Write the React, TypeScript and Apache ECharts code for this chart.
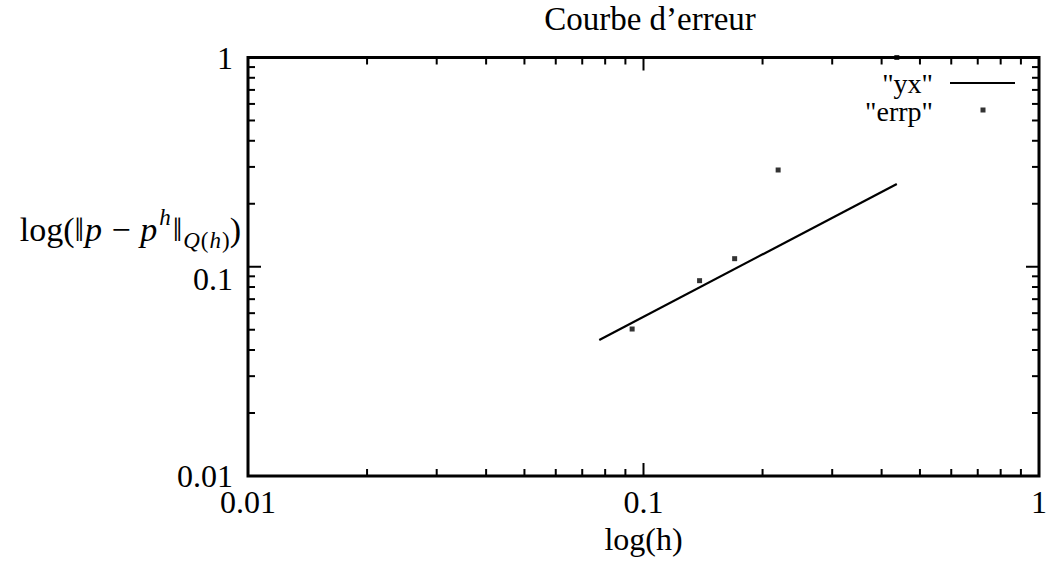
import React, { useEffect, useRef } from "react";
import * as echarts from "echarts";

const FONT = "'Liberation Serif', 'DejaVu Serif', serif";
const FS = 32;
const LEGEND_FS = 28;

// Series "yx" (reference line) and "errp" (error points)
const yxH = [0.0773, 0.437];
const yxErr = [0.0447, 0.2485];
const errpH = [0.0936, 0.1386, 0.17, 0.219, 0.437];
const errpErr = [0.0504, 0.0858, 0.1093, 0.29, 1.0];

// Axis ticks
const majorTicks = [0.01, 0.1, 1];
const majorLabels = ["0.01", "0.1", "1"];
const minorTicks = [
  0.02, 0.03, 0.04, 0.05, 0.06, 0.07, 0.08, 0.09,
  0.2, 0.3, 0.4, 0.5, 0.6, 0.7, 0.8, 0.9,
];

const AXIS_MIN = 0.01;
const AXIS_MAX = 1;
const MAJOR_LEN = 13;
const MINOR_LEN = 7;

function labelFor(v: number): string {
  const i = majorTicks.findIndex(
    (t) => Math.abs(Math.log10(t) - Math.log10(v)) < 1e-6
  );
  return i >= 0 ? majorLabels[i] : "";
}

export default function App() {
  const ref = useRef<HTMLDivElement>(null);

  useEffect(() => {
    if (!ref.current) return;
    const chart = echarts.init(ref.current, null, { renderer: "svg" });

    const xTickData = [
      ...majorTicks.map((v) => [v, AXIS_MIN, MAJOR_LEN]),
      ...minorTicks.map((v) => [v, AXIS_MIN, MINOR_LEN]),
    ];
    const yTickData = [
      ...majorTicks.map((v) => [AXIS_MIN, v, MAJOR_LEN]),
      ...minorTicks.map((v) => [AXIS_MIN, v, MINOR_LEN]),
    ];

    const tickStyle = { stroke: "#000", lineWidth: 2 };

    const option: any = {
      animation: false,
      backgroundColor: "#fff",
      title: {
        text: "Courbe d\u2019erreur",
        left: 650,
        top: 2,
        padding: 0,
        textAlign: "center",
        textStyle: {
          fontFamily: FONT,
          fontSize: FS + 1,
          fontWeight: "normal",
          color: "#000",
        },
      },
      legend: {
        orient: "vertical",
        right: 35,
        top: 69,
        padding: 0,
        align: "right",
        itemWidth: 65,
        itemHeight: 22,
        itemGap: 0,
        selectedMode: false,
        textStyle: {
          fontFamily: FONT,
          fontSize: LEGEND_FS,
          color: "#000",
          padding: [0, 12, 0, 0],
        },
        data: [
          {
            name: '"yx"',
            icon: "path://M0,10h65v2h-65z",
          },
          {
            name: '"errp"',
            icon: "path://M0,0h0.05v0.05h-0.05zM30.5,7.5h5v5h-5zM64.95,21.95h0.05v0.05h-0.05z",
          },
        ],
      },
      grid: {
        left: 248,
        right: 9,
        top: 57.5,
        bottom: 87,
        show: true,
        borderColor: "#000",
        borderWidth: 3,
        backgroundColor: "transparent",
      },
      xAxis: {
        type: "log",
        logBase: 10,
        min: AXIS_MIN,
        max: AXIS_MAX,
        name: "log(h)",
        nameLocation: "middle",
        nameGap: 46,
        nameTextStyle: { fontFamily: FONT, fontSize: FS, color: "#000" },
        axisLine: { show: false },
        axisTick: { show: false },
        splitLine: { show: false },
        minorTick: { show: false },
        axisLabel: {
          margin: 10,
          fontFamily: FONT,
          fontSize: FS,
          color: "#000",
          showMinLabel: true,
          showMaxLabel: true,
          formatter: (v: number) => labelFor(v),
        },
      },
      yAxis: {
        type: "log",
        logBase: 10,
        min: AXIS_MIN,
        max: AXIS_MAX,
        axisLine: { show: false },
        axisTick: { show: false },
        splitLine: { show: false },
        minorTick: { show: false },
        axisLabel: {
          margin: 15,
          fontFamily: FONT,
          fontSize: FS,
          color: "#000",
          showMinLabel: true,
          showMaxLabel: true,
          formatter: (v: number) => {
            const s = labelFor(v);
            return s === "0.1" ? "{dn|" + s + "}" : s;
          },
          rich: {
            dn: {
              fontFamily: FONT,
              fontSize: FS,
              color: "#000",
              padding: [25, 0, 0, 0],
            },
          },
        },
      },
      graphic: [
        {
          type: "text",
          x: 241,
          y: 229,
          style: {
            text:
              "{n|log(\u2016}{i|p}{n| \u2212 }{i|p}{sup|h}{n|\u2016}{subi|Q}{sub|(}{subi|h}{sub|)}{n|)}",
            align: "right",
            verticalAlign: "middle",
            rich: {
              n: { fontFamily: FONT, fontSize: 34, lineHeight: 46, color: "#000" },
              i: {
                fontFamily: FONT,
                fontSize: 34,
                fontStyle: "italic",
                lineHeight: 46,
                color: "#000",
                padding: [0, 1, 0, 1],
              },
              sup: {
                fontFamily: FONT,
                fontSize: 23,
                fontStyle: "italic",
                lineHeight: 26,
                verticalAlign: "top",
                color: "#000",
                padding: [0, 2, 0, 1],
              },
              sub: {
                fontFamily: FONT,
                fontSize: 23,
                lineHeight: 26,
                verticalAlign: "bottom",
                color: "#000",
              },
              subi: {
                fontFamily: FONT,
                fontSize: 23,
                fontStyle: "italic",
                lineHeight: 26,
                verticalAlign: "bottom",
                color: "#000",
                padding: [0, 1, 0, 1],
              },
            },
          },
        },
      ],
      series: [
        {
          name: '"yx"',
          type: "line",
          data: yxH.map((h, i) => [h, yxErr[i]]),
          symbol: "none",
          lineStyle: { color: "#000", width: 2.2 },
          itemStyle: { color: "#000" },
          z: 3,
        },
        {
          name: '"errp"',
          type: "scatter",
          data: errpH.map((h, i) => [h, errpErr[i]]),
          symbol: "rect",
          symbolSize: 5,
          itemStyle: { color: "#000" },
          clip: false,
          z: 4,
        },
        {
          name: "xticks",
          type: "custom",
          silent: true,
          clip: false,
          data: xTickData,
          renderItem: (params: any, api: any) => {
            const v = api.value(0);
            const len = api.value(2);
            const b = api.coord([v, AXIS_MIN]);
            const t = api.coord([v, AXIS_MAX]);
            return {
              type: "group",
              children: [
                {
                  type: "line",
                  shape: { x1: b[0], y1: b[1], x2: b[0], y2: b[1] - len },
                  style: tickStyle,
                },
                {
                  type: "line",
                  shape: { x1: t[0], y1: t[1], x2: t[0], y2: t[1] + len },
                  style: tickStyle,
                },
              ],
            };
          },
        },
        {
          name: "yticks",
          type: "custom",
          silent: true,
          clip: false,
          data: yTickData,
          renderItem: (params: any, api: any) => {
            const v = api.value(1);
            const len = api.value(2);
            const l = api.coord([AXIS_MIN, v]);
            const r = api.coord([AXIS_MAX, v]);
            return {
              type: "group",
              children: [
                {
                  type: "line",
                  shape: { x1: l[0], y1: l[1], x2: l[0] + len, y2: l[1] },
                  style: tickStyle,
                },
                {
                  type: "line",
                  shape: { x1: r[0], y1: r[1], x2: r[0] - len, y2: r[1] },
                  style: tickStyle,
                },
              ],
            };
          },
        },
      ],
    };

    chart.setOption(option);
    return () => {
      chart.dispose();
    };
  }, []);

  return (
    <div
      ref={ref}
      style={{ position: "absolute", left: 0, top: 0, width: 1050, height: 563 }}
    />
  );
}
